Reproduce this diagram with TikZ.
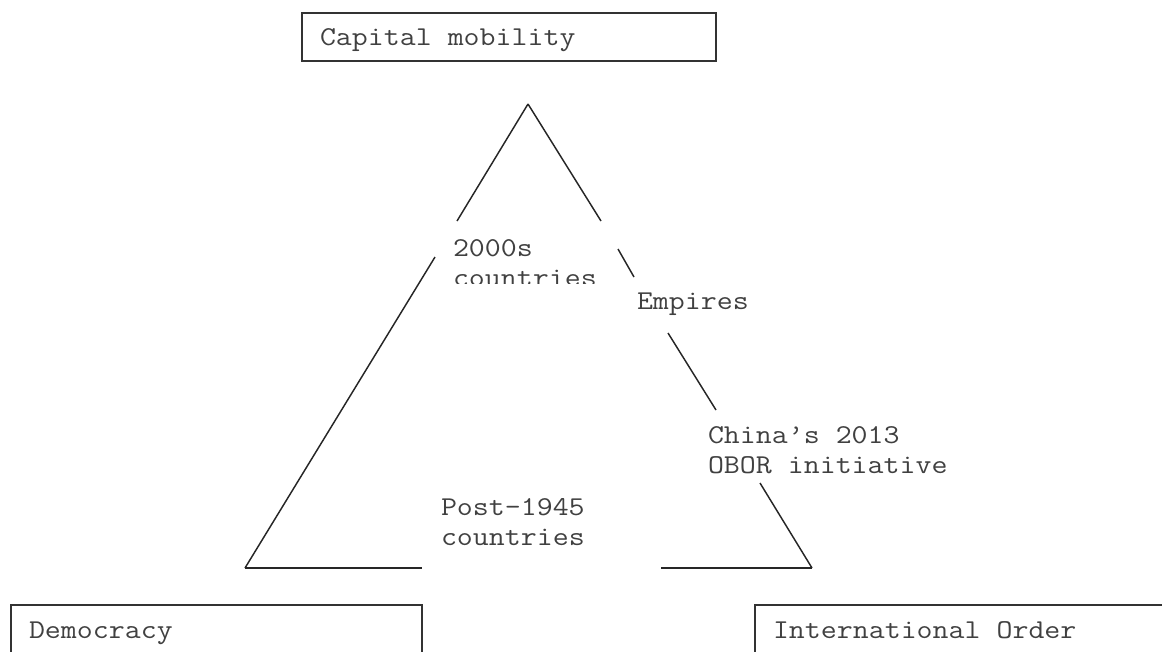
\documentclass[tikz,border=0pt]{standalone}
\usepackage{fontspec}
\setmonofont[FakeStretch=1.14]{Latin Modern Mono}
\begin{document}
\begin{tikzpicture}[x=0.75pt,y=-0.75pt,
  lbl/.style={anchor=base west,inner sep=0pt,outer sep=0pt,text=black!75,
    font=\ttfamily\fontsize{20.4}{22.5}\selectfont},
  side/.style={line width=1.1pt,draw=black!85},
  boxline/.style={line width=1.1pt,draw=black!80}]
\useasboundingbox (0,0) rectangle (1162,651);
% boxes
\draw[boxline] (302,13) rectangle (716,61);
\draw[boxline] (11,660) |- (422,605) -- (422,660);
\draw[boxline] (755,660) |- (1170,605);
\node[lbl] (cap) at (320,45) {Capital mobility};
\node[lbl] (dem) at (29,638) {Democracy};
\node[lbl] (io) at (773,638) {International Order};
% triangle corners
\coordinate (A) at (528,104);
\coordinate (L) at (245,568);
\coordinate (R) at (812,568);
% left side
\draw[side] (A) -- (457,221);
\draw[side] (435,257) -- (L);
% right side
\draw[side] (A) -- (601,221);
\draw[side] (618,249) -- (634,277);
\draw[side] (668,333) -- (716,410);
\draw[side] (760,483) -- (R);
% bottom
\draw[side] (L) -- (422,568);
\draw[side] (661,568) -- (R);
% labels
\node[lbl] (t2000) at (453,256) {2000s};
\begin{scope}
\clip (440,262) rectangle (620,283);
\node[lbl] (t2000b) at (453,286) {countries};
\end{scope}
\node[lbl] (emp) at (637,309) {Empires};
\node[lbl] (chn) at (708,443) {China’s 2013};
\node[lbl] (obor) at (708,473) {OBOR initiative};
\node[lbl] (post) at (441,515) {Post-1945};
\node[lbl] (postb) at (441,545) {countries};
\end{tikzpicture}
\end{document}
